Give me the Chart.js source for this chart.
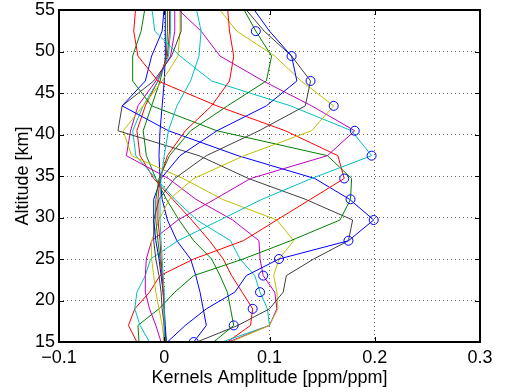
<!DOCTYPE html>
<html>
<head>
<meta charset="UTF-8">
<title>Averaging kernels</title>
<script src="https://cdn.jsdelivr.net/npm/chart.js"></script>
<style>
  body { margin: 0; background: #fff; }
  canvas { display: block; }
</style>
</head>
<body>
<canvas id="kernelChart" width="507" height="392"></canvas>
<script>
// retrieval levels (km)
const altitudes = [15, 17, 19, 21, 23, 25, 27.2, 29.7, 32.2, 34.7, 37.45, 40.45, 43.45, 46.45, 49.45, 52.45, 55.45];

// kernel rows, one per level (ppm/ppm)
const k01 = [0.028, 0.040, 0.037, 0.034, 0.030, 0.025, 0.012, 0.003, -0.002, -0.004, -0.005, -0.004, -0.002, 0.000, 0.001, 0.001, 0.001];
const k02 = [0.047, 0.066, 0.063, 0.060, 0.053, 0.045, 0.028, 0.014, 0.002, -0.008, -0.017, -0.020, -0.012, -0.004, 0.002, 0.003, 0.003];
const k03 = [0.060, 0.082, 0.084, 0.074, 0.064, 0.056, 0.043, 0.026, 0.008, -0.010, -0.023, -0.026, -0.018, -0.006, 0.003, 0.005, 0.005];
const k04 = [0.055, 0.100, 0.098, 0.091, 0.086, 0.072, 0.063, 0.031, 0.010, -0.008, -0.027, -0.030, -0.020, -0.006, 0.004, 0.006, 0.006];
const k05 = [0.061, 0.100, 0.107, 0.105, 0.094, 0.091, 0.090, 0.065, 0.030, 0.004, -0.036, -0.032, -0.025, -0.008, 0.006, 0.010, 0.010];
const k06 = [0.063, 0.100, 0.108, 0.107, 0.104, 0.109, 0.123, 0.107, 0.055, 0.018, -0.031, -0.039, -0.020, -0.002, 0.013, 0.015, 0.015];
const k07 = [0.031, 0.070, 0.100, 0.113, 0.116, 0.142, 0.175, 0.179, 0.134, 0.080, 0.033, -0.044, -0.040, -0.010, 0.007, 0.016, 0.016];
const k08 = [0.003, 0.020, 0.040, 0.067, 0.078, 0.109, 0.175, 0.199, 0.176, 0.143, 0.070, 0.004, -0.040, -0.018, -0.012, -0.002, 0.000];
const k09 = [-0.024, -0.025, -0.005, 0.010, 0.028, 0.075, 0.120, 0.167, 0.177, 0.178, 0.155, 0.050, -0.012, -0.030, -0.030, -0.022, -0.018];
const k10 = [-0.026, -0.034, -0.028, -0.014, -0.004, 0.028, 0.075, 0.107, 0.139, 0.171, 0.165, 0.115, 0.050, -0.006, -0.025, -0.029, -0.027];
const k11 = [-0.014, -0.023, -0.028, -0.026, -0.018, -0.013, 0.013, 0.053, 0.093, 0.140, 0.197, 0.178, 0.120, 0.045, 0.015, -0.009, -0.012];
const k12 = [-0.003, -0.008, -0.014, -0.018, -0.018, -0.017, -0.012, 0.013, 0.048, 0.082, 0.155, 0.181, 0.140, 0.094, 0.053, 0.035, 0.010];
const k13 = [0.000, -0.002, -0.005, -0.008, -0.010, -0.012, -0.012, -0.005, 0.005, 0.028, 0.076, 0.140, 0.161, 0.130, 0.105, 0.069, 0.050];
const k14 = [0.002, 0.000, -0.002, -0.003, -0.005, -0.008, -0.010, -0.010, -0.005, 0.010, 0.040, 0.090, 0.134, 0.139, 0.121, 0.095, 0.075];
const k15 = [0.002, 0.001, 0.000, -0.001, -0.003, -0.005, -0.008, -0.010, -0.010, -0.003, 0.015, 0.050, 0.097, 0.126, 0.121, 0.100, 0.083];
const k16 = [0.001, 0.000, 0.000, -0.001, -0.002, -0.004, -0.006, -0.008, -0.008, -0.005, 0.005, 0.025, 0.060, 0.097, 0.102, 0.087, 0.074];
const k17 = [0.000, 0.000, 0.000, -0.001, -0.002, -0.003, -0.004, -0.006, -0.006, -0.004, 0.003, 0.020, 0.045, 0.062, 0.066, 0.062, 0.060];
const k18 = [0.000, 0.000, 0.000, 0.000, -0.001, -0.002, -0.003, -0.004, -0.004, -0.003, 0.000, 0.004, 0.012, 0.025, 0.033, 0.035, 0.030];

// diagonal values (the circles), levels 15 .. 52.45 km
const diagonal = [0.028, 0.066, 0.084, 0.091, 0.094, 0.109, 0.175, 0.199, 0.177, 0.171, 0.197, 0.181, 0.161, 0.139, 0.121, 0.087];

const xTicks = [-0.1, 0, 0.1, 0.2, 0.3];
const yTicks = [15, 20, 25, 30, 35, 40, 45, 50, 55];

// old matlab line colour order
const lineColors = ['#0000ff', '#008000', '#ff0000', '#00bfbf', '#bf00bf', '#bfbf00', '#404040'];

const kernels = [k01, k02, k03, k04, k05, k06, k07, k08, k09, k10, k11, k12, k13, k14, k15, k16, k17, k18];

const datasets = kernels.map((k, i) => ({
    data: k.map((v, j) => ({ x: v, y: altitudes[j] })),
    borderColor: lineColors[i % lineColors.length],
    borderWidth: 1,
    pointRadius: 0,
    showLine: true,
    fill: false,
    order: kernels.length - i
}));

datasets.push({
    data: diagonal.map((v, j) => ({ x: v, y: altitudes[j] })),
    borderColor: '#0000ff',
    backgroundColor: 'rgba(0,0,0,0)',
    pointRadius: 4.5,
    pointBorderWidth: 1,
    showLine: false,
    order: -1
});

// box around the axes with inward ticks, like matlab
const boxPlugin = {
    id: 'box',
    afterDraw(chart) {
        const { ctx, chartArea: a, scales } = chart;
        ctx.save();
        ctx.strokeStyle = '#000';
        ctx.lineWidth = 1;
        ctx.beginPath();
        xTicks.forEach(t => {
            const px = Math.round(scales.x.getPixelForValue(t)) + 0.5;
            ctx.moveTo(px, a.bottom); ctx.lineTo(px, a.bottom - 5);
            ctx.moveTo(px, a.top); ctx.lineTo(px, a.top + 5);
        });
        yTicks.forEach(t => {
            const py = Math.round(scales.y.getPixelForValue(t)) + 0.5;
            ctx.moveTo(a.left, py); ctx.lineTo(a.left + 5, py);
            ctx.moveTo(a.right, py); ctx.lineTo(a.right - 5, py);
        });
        ctx.stroke();
        ctx.lineWidth = 2;
        ctx.strokeRect(Math.round(a.left), Math.round(a.top), Math.round(a.width), Math.round(a.height));
        ctx.restore();
    }
};

const font = { family: 'Liberation Sans, Arial, sans-serif', size: 18 };

new Chart(document.getElementById('kernelChart'), {
    type: 'scatter',
    data: { datasets: datasets },
    plugins: [boxPlugin],
    options: {
        responsive: false,
        animation: false,
        layout: { padding: { left: 0, right: 27, top: 10, bottom: 0 } },
        plugins: { legend: { display: false }, tooltip: { enabled: false } },
        scales: {
            x: {
                type: 'linear',
                min: -0.1,
                max: 0.3,
                afterFit: s => { s.height = 50; s.paddingLeft = 0; s.paddingRight = 0; },
                afterBuildTicks: s => { s.ticks = xTicks.map(v => ({ value: v })); },
                grid: { color: 'rgba(0,0,0,0.6)', drawTicks: false },
                border: { display: false, dash: [1, 3] },
                ticks: {
                    color: '#000',
                    font: font,
                    padding: 5,
                    maxRotation: 0,
                    callback: v => {
                        const r = Math.round(v * 10) / 10;
                        return r < 0 ? '\u2212' + Math.abs(r) : String(r);
                    }
                },
                title: {
                    display: true,
                    text: 'Kernels Amplitude [ppm/ppm]',
                    color: '#000',
                    font: font,
                    padding: { top: 0, bottom: 3 }
                }
            },
            y: {
                type: 'linear',
                min: 15,
                max: 55,
                afterFit: s => { s.width = 59; s.paddingTop = 0; s.paddingBottom = 0; },
                afterBuildTicks: s => { s.ticks = yTicks.map(v => ({ value: v })); },
                grid: { color: 'rgba(0,0,0,0.6)', drawTicks: false },
                border: { display: false, dash: [1, 3] },
                ticks: { color: '#000', font: font, padding: 4 },
                title: {
                    display: true,
                    text: 'Altitude [km]',
                    color: '#000',
                    font: font,
                    padding: { top: 12, bottom: 0 }
                }
            }
        }
    }
});
</script>
</body>
</html>
